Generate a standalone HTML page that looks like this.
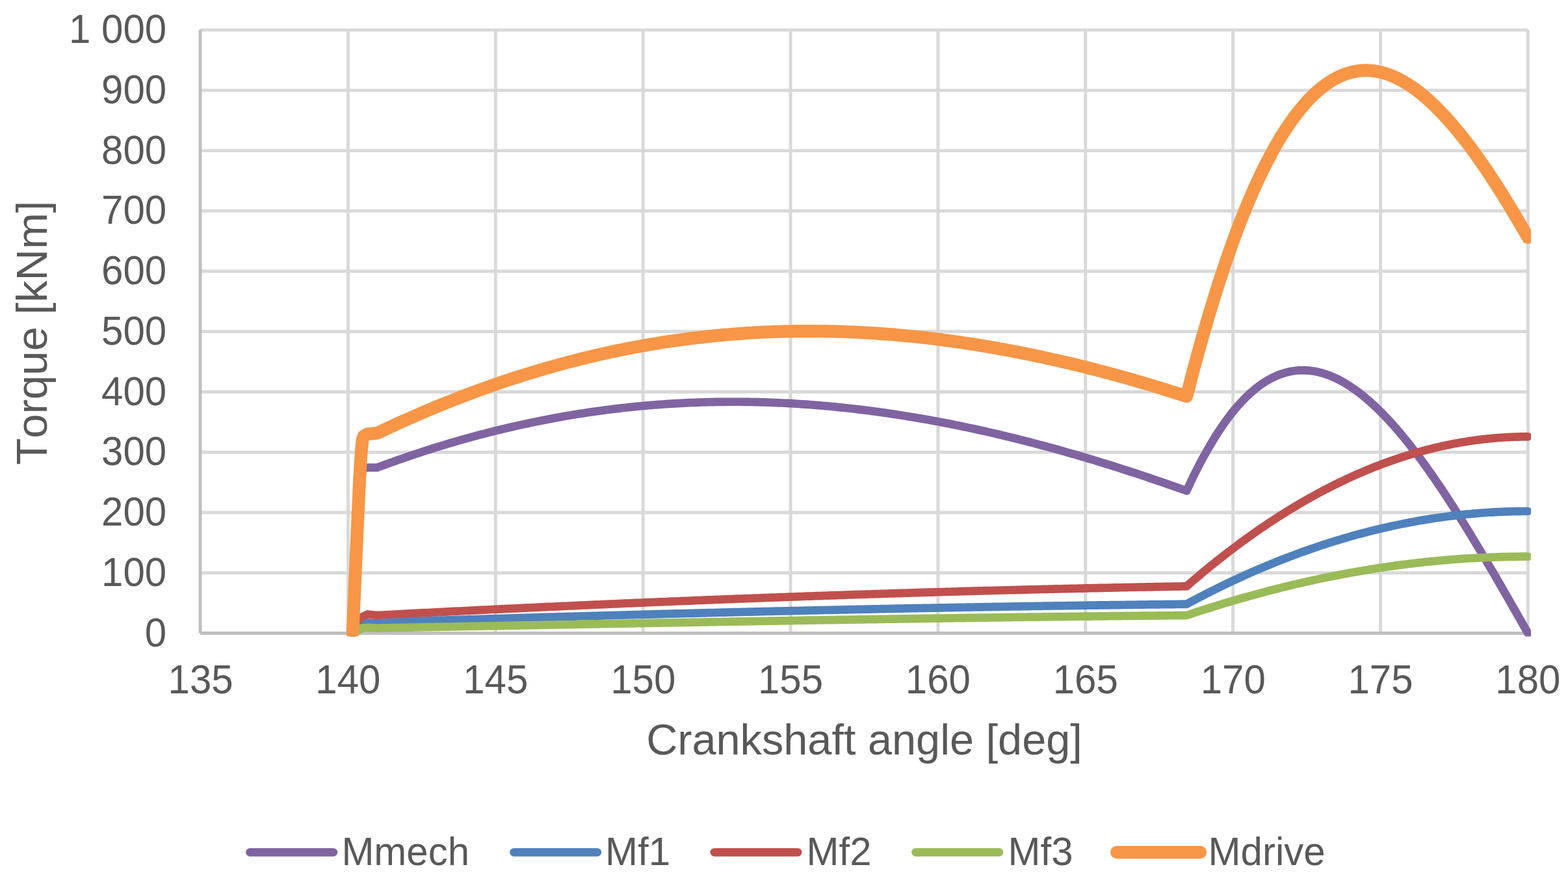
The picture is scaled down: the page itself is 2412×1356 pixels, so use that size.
<!DOCTYPE html>
<html lang="en">
<head>
<meta charset="utf-8">
<title>Torque vs crankshaft angle</title>
<style>
html,body{margin:0;padding:0;background:#fff;}
body{width:2412px;height:1356px;overflow:hidden;}
svg{display:block;}
text{font-family:"Liberation Sans",Arial,Helvetica,sans-serif;fill:#595959;font-kerning:none;}
.tick{font-size:60px;}
.title{font-size:66.67px;}
.leg{font-size:60px;}
.grid line{stroke:#D9D9D9;stroke-width:4.9;}
.axis line{stroke:#BFBFBF;stroke-width:4.9;}
.series path{fill:none;stroke-linejoin:round;stroke-linecap:round;}
.legend line{stroke-linecap:round;}
</style>
</head>
<body>
<svg width="2412" height="1356" viewBox="0 0 2412 1356">
<rect width="2412" height="1356" fill="#ffffff"/>
<defs><clipPath id="plotclip"><rect x="304.2" y="41.7" width="2050.9" height="936.8"/></clipPath></defs>

<g class="grid">
<line x1="308.0" y1="880.76" x2="2350.4" y2="880.76"/>
<line x1="308.0" y1="788.02" x2="2350.4" y2="788.02"/>
<line x1="308.0" y1="695.28" x2="2350.4" y2="695.28"/>
<line x1="308.0" y1="602.54" x2="2350.4" y2="602.54"/>
<line x1="308.0" y1="509.80" x2="2350.4" y2="509.80"/>
<line x1="308.0" y1="417.06" x2="2350.4" y2="417.06"/>
<line x1="308.0" y1="324.32" x2="2350.4" y2="324.32"/>
<line x1="308.0" y1="231.58" x2="2350.4" y2="231.58"/>
<line x1="308.0" y1="138.84" x2="2350.4" y2="138.84"/>
<line x1="308.0" y1="46.10" x2="2350.4" y2="46.10"/>
<line x1="535.42" y1="46.1" x2="535.42" y2="973.5"/>
<line x1="762.29" y1="46.1" x2="762.29" y2="973.5"/>
<line x1="989.17" y1="46.1" x2="989.17" y2="973.5"/>
<line x1="1216.04" y1="46.1" x2="1216.04" y2="973.5"/>
<line x1="1442.91" y1="46.1" x2="1442.91" y2="973.5"/>
<line x1="1669.78" y1="46.1" x2="1669.78" y2="973.5"/>
<line x1="1896.66" y1="46.1" x2="1896.66" y2="973.5"/>
<line x1="2123.53" y1="46.1" x2="2123.53" y2="973.5"/>
<line x1="2350.40" y1="46.1" x2="2350.40" y2="973.5"/>
</g>
<g class="axis">
<line x1="308.00" y1="46.1" x2="308.00" y2="973.5"/>
<line x1="308.0" y1="973.50" x2="2350.4" y2="973.50"/>
</g>
<g class="series" clip-path="url(#plotclip)">
<path stroke="#8064A2" stroke-width="12.7" d="M542.30,973.50 L557.59,720.32 L565.01,718.93 L580.34,718.82 L584.88,717.13 L589.42,715.46 L593.96,713.80 L598.49,712.15 L603.03,710.52 L607.57,708.90 L612.11,707.30 L616.64,705.71 L621.18,704.14 L625.72,702.58 L630.25,701.03 L634.79,699.50 L639.33,697.98 L643.87,696.48 L648.40,694.99 L652.94,693.52 L657.48,692.06 L662.02,690.61 L666.55,689.18 L671.09,687.76 L675.63,686.36 L680.17,684.97 L684.70,683.60 L689.24,682.24 L693.78,680.89 L698.32,679.56 L702.85,678.24 L707.39,676.94 L711.93,675.65 L716.47,674.38 L721.00,673.12 L725.54,671.87 L730.08,670.64 L734.62,669.43 L739.15,668.22 L743.69,667.04 L748.23,665.86 L752.77,664.70 L757.30,663.56 L761.84,662.43 L766.38,661.31 L770.92,660.21 L775.45,659.12 L779.99,658.05 L784.53,656.99 L789.07,655.95 L793.60,654.92 L798.14,653.90 L802.68,652.90 L807.22,651.91 L811.75,650.94 L816.29,649.98 L820.83,649.03 L825.36,648.10 L829.90,647.19 L834.44,646.29 L838.98,645.40 L843.51,644.53 L848.05,643.67 L852.59,642.82 L857.13,641.99 L861.66,641.18 L866.20,640.37 L870.74,639.59 L875.28,638.81 L879.81,638.05 L884.35,637.31 L888.89,636.58 L893.43,635.86 L897.96,635.16 L902.50,634.47 L907.04,633.79 L911.58,633.13 L916.11,632.49 L920.65,631.85 L925.19,631.23 L929.73,630.63 L934.26,630.04 L938.80,629.46 L943.34,628.90 L947.88,628.35 L952.41,627.82 L956.95,627.30 L961.49,626.79 L966.03,626.30 L970.56,625.82 L975.10,625.36 L979.64,624.91 L984.18,624.47 L988.71,624.05 L993.25,623.64 L997.79,623.25 L1002.33,622.86 L1006.86,622.50 L1011.40,622.14 L1015.94,621.80 L1020.48,621.48 L1025.01,621.17 L1029.55,620.87 L1034.09,620.58 L1038.62,620.31 L1043.16,620.06 L1047.70,619.81 L1052.24,619.58 L1056.77,619.36 L1061.31,619.16 L1065.85,618.97 L1070.39,618.80 L1074.92,618.64 L1079.46,618.49 L1084.00,618.35 L1088.54,618.23 L1093.07,618.12 L1097.61,618.03 L1102.15,617.95 L1106.69,617.88 L1111.22,617.82 L1115.76,617.78 L1120.30,617.75 L1124.84,617.74 L1129.37,617.74 L1133.91,617.75 L1138.45,617.77 L1142.99,617.81 L1147.52,617.86 L1152.06,617.93 L1156.60,618.01 L1161.14,618.10 L1165.67,618.20 L1170.21,618.32 L1174.75,618.45 L1179.29,618.59 L1183.82,618.75 L1188.36,618.92 L1192.90,619.10 L1197.44,619.29 L1201.97,619.50 L1206.51,619.72 L1211.05,619.95 L1215.59,620.20 L1220.12,620.46 L1224.66,620.73 L1229.20,621.01 L1233.73,621.31 L1238.27,621.62 L1242.81,621.94 L1247.35,622.28 L1251.88,622.62 L1256.42,622.98 L1260.96,623.36 L1265.50,623.74 L1270.03,624.14 L1274.57,624.55 L1279.11,624.97 L1283.65,625.40 L1288.18,625.85 L1292.72,626.31 L1297.26,626.78 L1301.80,627.26 L1306.33,627.76 L1310.87,628.26 L1315.41,628.78 L1319.95,629.32 L1324.48,629.86 L1329.02,630.42 L1333.56,630.98 L1338.10,631.56 L1342.63,632.15 L1347.17,632.76 L1351.71,633.37 L1356.25,634.00 L1360.78,634.64 L1365.32,635.29 L1369.86,635.95 L1374.40,636.62 L1378.93,637.31 L1383.47,638.01 L1388.01,638.71 L1392.55,639.43 L1397.08,640.16 L1401.62,640.91 L1406.16,641.66 L1410.70,642.43 L1415.23,643.20 L1419.77,643.99 L1424.31,644.79 L1428.85,645.60 L1433.38,646.42 L1437.92,647.26 L1442.46,648.10 L1446.99,648.95 L1451.53,649.82 L1456.07,650.70 L1460.61,651.58 L1465.14,652.48 L1469.68,653.39 L1474.22,654.31 L1478.76,655.24 L1483.29,656.18 L1487.83,657.14 L1492.37,658.10 L1496.91,659.07 L1501.44,660.06 L1505.98,661.05 L1510.52,662.06 L1515.06,663.07 L1519.59,664.10 L1524.13,665.13 L1528.67,666.18 L1533.21,667.24 L1537.74,668.30 L1542.28,669.38 L1546.82,670.47 L1551.36,671.56 L1555.89,672.67 L1560.43,673.79 L1564.97,674.91 L1569.51,676.05 L1574.04,677.20 L1578.58,678.35 L1583.12,679.52 L1587.66,680.69 L1592.19,681.88 L1596.73,683.07 L1601.27,684.28 L1605.81,685.49 L1610.34,686.72 L1614.88,687.95 L1619.42,689.19 L1623.96,690.44 L1628.49,691.70 L1633.03,692.97 L1637.57,694.25 L1642.10,695.54 L1646.64,696.84 L1651.18,698.15 L1655.72,699.46 L1660.25,700.79 L1664.79,702.12 L1669.33,703.46 L1673.87,704.81 L1678.40,706.17 L1682.94,707.54 L1687.48,708.92 L1692.02,710.30 L1696.55,711.70 L1701.09,713.10 L1705.63,714.51 L1710.17,715.93 L1714.70,717.36 L1719.24,718.79 L1723.78,720.24 L1728.32,721.69 L1732.85,723.15 L1737.39,724.62 L1741.93,726.09 L1746.47,727.58 L1751.00,729.07 L1755.54,730.57 L1760.08,732.08 L1764.62,733.59 L1769.15,735.12 L1773.69,736.65 L1778.23,738.19 L1782.77,739.73 L1787.30,741.29 L1791.84,742.85 L1796.38,744.42 L1800.92,745.99 L1805.45,747.57 L1809.99,749.16 L1814.53,750.76 L1819.07,752.37 L1823.60,753.98 L1825.33,754.59 L1827.14,750.62 L1830.77,742.81 L1834.40,735.21 L1838.03,727.82 L1841.66,720.62 L1845.29,713.61 L1848.92,706.81 L1852.55,700.19 L1856.18,693.77 L1859.81,687.43 L1863.44,681.24 L1867.07,675.23 L1870.70,669.40 L1874.33,663.75 L1877.96,658.28 L1881.59,652.99 L1885.22,647.87 L1888.85,642.92 L1892.48,638.15 L1896.11,633.55 L1899.74,629.13 L1903.37,624.87 L1907.00,620.78 L1910.63,616.85 L1914.26,613.10 L1917.89,609.50 L1921.52,606.07 L1925.15,602.81 L1928.78,599.70 L1932.41,596.75 L1936.04,593.96 L1939.67,591.33 L1943.30,588.85 L1946.93,586.53 L1950.56,584.36 L1954.19,582.34 L1957.82,580.47 L1961.45,578.75 L1965.08,577.18 L1968.71,575.75 L1972.34,574.47 L1975.97,573.33 L1979.60,572.34 L1983.23,571.48 L1986.86,570.77 L1990.49,570.19 L1994.12,569.76 L1997.75,569.45 L2001.38,569.29 L2005.01,569.25 L2008.64,569.35 L2012.27,569.58 L2015.90,569.93 L2019.53,570.42 L2023.16,571.03 L2026.79,571.76 L2030.42,572.62 L2034.05,573.61 L2037.68,574.71 L2041.31,575.94 L2044.94,577.28 L2048.57,578.74 L2052.20,580.31 L2055.83,582.00 L2059.46,583.80 L2063.09,585.72 L2066.72,587.74 L2070.35,589.88 L2073.98,592.12 L2077.61,594.47 L2081.24,596.92 L2084.87,599.48 L2088.50,602.14 L2092.13,604.90 L2095.76,607.75 L2099.39,610.71 L2103.02,613.77 L2106.65,616.92 L2110.28,620.16 L2113.91,623.49 L2117.54,626.92 L2121.17,630.44 L2124.80,634.05 L2128.43,637.74 L2132.06,641.52 L2135.69,645.38 L2139.32,649.33 L2142.95,653.35 L2146.58,657.46 L2150.21,661.65 L2153.84,665.91 L2157.47,670.26 L2161.10,674.67 L2164.73,679.16 L2168.36,683.72 L2171.99,688.35 L2175.62,693.05 L2179.25,697.82 L2182.88,702.65 L2186.51,707.55 L2190.14,712.52 L2193.77,717.54 L2197.40,722.63 L2201.03,727.77 L2204.66,732.98 L2208.29,738.24 L2211.92,743.55 L2215.55,748.92 L2219.18,754.34 L2222.81,759.81 L2226.44,765.34 L2230.07,770.91 L2233.70,776.52 L2237.33,782.19 L2240.96,787.89 L2244.59,793.64 L2248.22,799.43 L2251.85,805.26 L2255.48,811.13 L2259.11,817.04 L2262.74,822.98 L2266.37,828.95 L2270.00,834.96 L2273.63,841.00 L2277.26,847.07 L2280.89,853.16 L2284.52,859.29 L2288.15,865.44 L2291.78,871.61 L2295.41,877.81 L2299.04,884.03 L2302.67,890.27 L2306.30,896.52 L2309.93,902.80 L2313.56,909.09 L2317.19,915.39 L2320.82,921.71 L2324.45,928.04 L2328.08,934.38 L2331.71,940.72 L2335.34,947.08 L2338.97,953.44 L2342.60,959.81 L2346.23,966.17 L2349.86,972.54 L2350.40,973.50"/>
<path stroke="#C0504D" stroke-width="12.7" d="M542.30,973.50 L557.59,948.46 L565.01,944.66 L580.34,945.96 L584.88,945.72 L589.42,945.48 L593.96,945.24 L598.49,945.01 L603.03,944.77 L607.57,944.53 L612.11,944.30 L616.64,944.07 L621.18,943.83 L625.72,943.60 L630.25,943.36 L634.79,943.13 L639.33,942.90 L643.87,942.67 L648.40,942.44 L652.94,942.20 L657.48,941.97 L662.02,941.74 L666.55,941.52 L671.09,941.29 L675.63,941.06 L680.17,940.83 L684.70,940.60 L689.24,940.38 L693.78,940.15 L698.32,939.92 L702.85,939.70 L707.39,939.47 L711.93,939.25 L716.47,939.02 L721.00,938.80 L725.54,938.58 L730.08,938.36 L734.62,938.13 L739.15,937.91 L743.69,937.69 L748.23,937.47 L752.77,937.25 L757.30,937.03 L761.84,936.81 L766.38,936.60 L770.92,936.38 L775.45,936.16 L779.99,935.94 L784.53,935.73 L789.07,935.51 L793.60,935.30 L798.14,935.08 L802.68,934.87 L807.22,934.65 L811.75,934.44 L816.29,934.23 L820.83,934.02 L825.36,933.81 L829.90,933.59 L834.44,933.38 L838.98,933.17 L843.51,932.96 L848.05,932.76 L852.59,932.55 L857.13,932.34 L861.66,932.13 L866.20,931.92 L870.74,931.72 L875.28,931.51 L879.81,931.31 L884.35,931.10 L888.89,930.90 L893.43,930.70 L897.96,930.49 L902.50,930.29 L907.04,930.09 L911.58,929.89 L916.11,929.69 L920.65,929.49 L925.19,929.29 L929.73,929.09 L934.26,928.89 L938.80,928.69 L943.34,928.49 L947.88,928.29 L952.41,928.10 L956.95,927.90 L961.49,927.71 L966.03,927.51 L970.56,927.32 L975.10,927.12 L979.64,926.93 L984.18,926.74 L988.71,926.55 L993.25,926.35 L997.79,926.16 L1002.33,925.97 L1006.86,925.78 L1011.40,925.59 L1015.94,925.41 L1020.48,925.22 L1025.01,925.03 L1029.55,924.84 L1034.09,924.66 L1038.62,924.47 L1043.16,924.28 L1047.70,924.10 L1052.24,923.92 L1056.77,923.73 L1061.31,923.55 L1065.85,923.37 L1070.39,923.18 L1074.92,923.00 L1079.46,922.82 L1084.00,922.64 L1088.54,922.46 L1093.07,922.28 L1097.61,922.10 L1102.15,921.93 L1106.69,921.75 L1111.22,921.57 L1115.76,921.40 L1120.30,921.22 L1124.84,921.04 L1129.37,920.87 L1133.91,920.70 L1138.45,920.52 L1142.99,920.35 L1147.52,920.18 L1152.06,920.01 L1156.60,919.84 L1161.14,919.67 L1165.67,919.50 L1170.21,919.33 L1174.75,919.16 L1179.29,918.99 L1183.82,918.82 L1188.36,918.65 L1192.90,918.49 L1197.44,918.32 L1201.97,918.16 L1206.51,917.99 L1211.05,917.83 L1215.59,917.67 L1220.12,917.50 L1224.66,917.34 L1229.20,917.18 L1233.73,917.02 L1238.27,916.86 L1242.81,916.70 L1247.35,916.54 L1251.88,916.38 L1256.42,916.22 L1260.96,916.06 L1265.50,915.91 L1270.03,915.75 L1274.57,915.60 L1279.11,915.44 L1283.65,915.29 L1288.18,915.13 L1292.72,914.98 L1297.26,914.83 L1301.80,914.67 L1306.33,914.52 L1310.87,914.37 L1315.41,914.22 L1319.95,914.07 L1324.48,913.92 L1329.02,913.78 L1333.56,913.63 L1338.10,913.48 L1342.63,913.33 L1347.17,913.19 L1351.71,913.04 L1356.25,912.90 L1360.78,912.75 L1365.32,912.61 L1369.86,912.47 L1374.40,912.33 L1378.93,912.18 L1383.47,912.04 L1388.01,911.90 L1392.55,911.76 L1397.08,911.62 L1401.62,911.48 L1406.16,911.35 L1410.70,911.21 L1415.23,911.07 L1419.77,910.94 L1424.31,910.80 L1428.85,910.67 L1433.38,910.53 L1437.92,910.40 L1442.46,910.27 L1446.99,910.13 L1451.53,910.00 L1456.07,909.87 L1460.61,909.74 L1465.14,909.61 L1469.68,909.48 L1474.22,909.35 L1478.76,909.22 L1483.29,909.10 L1487.83,908.97 L1492.37,908.84 L1496.91,908.72 L1501.44,908.59 L1505.98,908.47 L1510.52,908.35 L1515.06,908.22 L1519.59,908.10 L1524.13,907.98 L1528.67,907.86 L1533.21,907.74 L1537.74,907.62 L1542.28,907.50 L1546.82,907.38 L1551.36,907.26 L1555.89,907.15 L1560.43,907.03 L1564.97,906.91 L1569.51,906.80 L1574.04,906.68 L1578.58,906.57 L1583.12,906.46 L1587.66,906.34 L1592.19,906.23 L1596.73,906.12 L1601.27,906.01 L1605.81,905.90 L1610.34,905.79 L1614.88,905.68 L1619.42,905.57 L1623.96,905.47 L1628.49,905.36 L1633.03,905.25 L1637.57,905.15 L1642.10,905.04 L1646.64,904.94 L1651.18,904.83 L1655.72,904.73 L1660.25,904.63 L1664.79,904.53 L1669.33,904.43 L1673.87,904.33 L1678.40,904.23 L1682.94,904.13 L1687.48,904.03 L1692.02,903.93 L1696.55,903.83 L1701.09,903.74 L1705.63,903.64 L1710.17,903.55 L1714.70,903.45 L1719.24,903.36 L1723.78,903.26 L1728.32,903.17 L1732.85,903.08 L1737.39,902.99 L1741.93,902.90 L1746.47,902.81 L1751.00,902.72 L1755.54,902.63 L1760.08,902.54 L1764.62,902.45 L1769.15,902.37 L1773.69,902.28 L1778.23,902.20 L1782.77,902.11 L1787.30,902.03 L1791.84,901.94 L1796.38,901.86 L1800.92,901.78 L1805.45,901.70 L1809.99,901.62 L1814.53,901.54 L1819.07,901.46 L1823.60,901.38 L1825.33,901.35 L1827.14,899.77 L1830.77,896.63 L1834.40,893.50 L1838.03,890.40 L1841.66,887.32 L1845.29,884.27 L1848.92,881.23 L1852.55,878.22 L1856.18,875.22 L1859.81,872.25 L1863.44,869.30 L1867.07,866.38 L1870.70,863.47 L1874.33,860.58 L1877.96,857.72 L1881.59,854.88 L1885.22,852.06 L1888.85,849.26 L1892.48,846.48 L1896.11,843.73 L1899.74,840.99 L1903.37,838.28 L1907.00,835.59 L1910.63,832.92 L1914.26,830.27 L1917.89,827.65 L1921.52,825.04 L1925.15,822.46 L1928.78,819.90 L1932.41,817.36 L1936.04,814.84 L1939.67,812.35 L1943.30,809.88 L1946.93,807.42 L1950.56,804.99 L1954.19,802.58 L1957.82,800.20 L1961.45,797.83 L1965.08,795.49 L1968.71,793.17 L1972.34,790.87 L1975.97,788.59 L1979.60,786.33 L1983.23,784.10 L1986.86,781.88 L1990.49,779.69 L1994.12,777.52 L1997.75,775.37 L2001.38,773.25 L2005.01,771.14 L2008.64,769.06 L2012.27,767.00 L2015.90,764.96 L2019.53,762.95 L2023.16,760.95 L2026.79,758.98 L2030.42,757.03 L2034.05,755.10 L2037.68,753.19 L2041.31,751.30 L2044.94,749.44 L2048.57,747.60 L2052.20,745.78 L2055.83,743.98 L2059.46,742.20 L2063.09,740.45 L2066.72,738.72 L2070.35,737.01 L2073.98,735.32 L2077.61,733.65 L2081.24,732.01 L2084.87,730.38 L2088.50,728.78 L2092.13,727.20 L2095.76,725.65 L2099.39,724.11 L2103.02,722.60 L2106.65,721.11 L2110.28,719.64 L2113.91,718.19 L2117.54,716.76 L2121.17,715.36 L2124.80,713.98 L2128.43,712.62 L2132.06,711.28 L2135.69,709.97 L2139.32,708.67 L2142.95,707.40 L2146.58,706.15 L2150.21,704.92 L2153.84,703.72 L2157.47,702.54 L2161.10,701.37 L2164.73,700.23 L2168.36,699.12 L2171.99,698.02 L2175.62,696.95 L2179.25,695.90 L2182.88,694.87 L2186.51,693.86 L2190.14,692.87 L2193.77,691.91 L2197.40,690.97 L2201.03,690.05 L2204.66,689.15 L2208.29,688.28 L2211.92,687.42 L2215.55,686.59 L2219.18,685.78 L2222.81,685.00 L2226.44,684.23 L2230.07,683.49 L2233.70,682.77 L2237.33,682.07 L2240.96,681.39 L2244.59,680.74 L2248.22,680.10 L2251.85,679.49 L2255.48,678.91 L2259.11,678.34 L2262.74,677.79 L2266.37,677.27 L2270.00,676.77 L2273.63,676.29 L2277.26,675.84 L2280.89,675.40 L2284.52,674.99 L2288.15,674.60 L2291.78,674.23 L2295.41,673.89 L2299.04,673.56 L2302.67,673.26 L2306.30,672.98 L2309.93,672.73 L2313.56,672.49 L2317.19,672.28 L2320.82,672.09 L2324.45,671.92 L2328.08,671.77 L2331.71,671.65 L2335.34,671.54 L2338.97,671.46 L2342.60,671.40 L2346.23,671.37 L2349.86,671.35 L2350.40,671.35"/>
<path stroke="#4F81BD" stroke-width="12.7" d="M542.30,973.50 L557.59,964.60 L565.01,957.64 L580.34,958.41 L584.88,958.16 L589.42,957.91 L593.96,957.66 L598.49,957.41 L603.03,957.16 L607.57,956.91 L612.11,956.66 L616.64,956.41 L621.18,956.16 L625.72,955.91 L630.25,955.66 L634.79,955.42 L639.33,955.17 L643.87,954.92 L648.40,954.67 L652.94,954.52 L657.48,954.38 L662.02,954.24 L666.55,954.09 L671.09,953.95 L675.63,953.81 L680.17,953.67 L684.70,953.53 L689.24,953.39 L693.78,953.25 L698.32,953.11 L702.85,952.97 L707.39,952.83 L711.93,952.69 L716.47,952.55 L721.00,952.42 L725.54,952.28 L730.08,952.14 L734.62,952.00 L739.15,951.86 L743.69,951.73 L748.23,951.59 L752.77,951.45 L757.30,951.32 L761.84,951.18 L766.38,951.05 L770.92,950.91 L775.45,950.78 L779.99,950.64 L784.53,950.51 L789.07,950.37 L793.60,950.24 L798.14,950.11 L802.68,949.97 L807.22,949.84 L811.75,949.71 L816.29,949.58 L820.83,949.44 L825.36,949.31 L829.90,949.18 L834.44,949.05 L838.98,948.92 L843.51,948.79 L848.05,948.66 L852.59,948.53 L857.13,948.40 L861.66,948.27 L866.20,948.14 L870.74,948.01 L875.28,947.88 L879.81,947.76 L884.35,947.63 L888.89,947.50 L893.43,947.37 L897.96,947.25 L902.50,947.12 L907.04,946.99 L911.58,946.87 L916.11,946.74 L920.65,946.62 L925.19,946.49 L929.73,946.37 L934.26,946.24 L938.80,946.12 L943.34,946.00 L947.88,945.87 L952.41,945.75 L956.95,945.63 L961.49,945.50 L966.03,945.38 L970.56,945.26 L975.10,945.14 L979.64,945.02 L984.18,944.90 L988.71,944.78 L993.25,944.66 L997.79,944.54 L1002.33,944.42 L1006.86,944.30 L1011.40,944.18 L1015.94,944.06 L1020.48,943.94 L1025.01,943.83 L1029.55,943.71 L1034.09,943.59 L1038.62,943.47 L1043.16,943.36 L1047.70,943.24 L1052.24,943.13 L1056.77,943.01 L1061.31,942.90 L1065.85,942.78 L1070.39,942.67 L1074.92,942.55 L1079.46,942.44 L1084.00,942.33 L1088.54,942.21 L1093.07,942.10 L1097.61,941.99 L1102.15,941.88 L1106.69,941.76 L1111.22,941.65 L1115.76,941.54 L1120.30,941.43 L1124.84,941.32 L1129.37,941.21 L1133.91,941.10 L1138.45,940.99 L1142.99,940.88 L1147.52,940.77 L1152.06,940.67 L1156.60,940.56 L1161.14,940.45 L1165.67,940.34 L1170.21,940.24 L1174.75,940.13 L1179.29,940.02 L1183.82,939.92 L1188.36,939.81 L1192.90,939.71 L1197.44,939.60 L1201.97,939.50 L1206.51,939.40 L1211.05,939.29 L1215.59,939.19 L1220.12,939.09 L1224.66,938.98 L1229.20,938.88 L1233.73,938.78 L1238.27,938.68 L1242.81,938.58 L1247.35,938.48 L1251.88,938.38 L1256.42,938.28 L1260.96,938.18 L1265.50,938.08 L1270.03,937.98 L1274.57,937.88 L1279.11,937.78 L1283.65,937.68 L1288.18,937.59 L1292.72,937.49 L1297.26,937.39 L1301.80,937.30 L1306.33,937.20 L1310.87,937.11 L1315.41,937.01 L1319.95,936.92 L1324.48,936.82 L1329.02,936.73 L1333.56,936.63 L1338.10,936.54 L1342.63,936.45 L1347.17,936.36 L1351.71,936.26 L1356.25,936.17 L1360.78,936.08 L1365.32,935.99 L1369.86,935.90 L1374.40,935.81 L1378.93,935.72 L1383.47,935.63 L1388.01,935.54 L1392.55,935.45 L1397.08,935.36 L1401.62,935.27 L1406.16,935.19 L1410.70,935.10 L1415.23,935.01 L1419.77,934.93 L1424.31,934.84 L1428.85,934.76 L1433.38,934.67 L1437.92,934.59 L1442.46,934.50 L1446.99,934.42 L1451.53,934.33 L1456.07,934.25 L1460.61,934.17 L1465.14,934.08 L1469.68,934.00 L1474.22,933.92 L1478.76,933.84 L1483.29,933.76 L1487.83,933.68 L1492.37,933.60 L1496.91,933.52 L1501.44,933.44 L1505.98,933.36 L1510.52,933.28 L1515.06,933.20 L1519.59,933.12 L1524.13,933.05 L1528.67,932.97 L1533.21,932.89 L1537.74,932.82 L1542.28,932.74 L1546.82,932.67 L1551.36,932.59 L1555.89,932.52 L1560.43,932.44 L1564.97,932.37 L1569.51,932.29 L1574.04,932.22 L1578.58,932.15 L1583.12,932.08 L1587.66,932.00 L1592.19,931.93 L1596.73,931.86 L1601.27,931.79 L1605.81,931.72 L1610.34,931.65 L1614.88,931.58 L1619.42,931.51 L1623.96,931.44 L1628.49,931.38 L1633.03,931.31 L1637.57,931.24 L1642.10,931.17 L1646.64,931.11 L1651.18,931.04 L1655.72,930.98 L1660.25,930.91 L1664.79,930.85 L1669.33,930.78 L1673.87,930.72 L1678.40,930.65 L1682.94,930.59 L1687.48,930.53 L1692.02,930.46 L1696.55,930.40 L1701.09,930.34 L1705.63,930.28 L1710.17,930.22 L1714.70,930.16 L1719.24,930.10 L1723.78,930.04 L1728.32,929.98 L1732.85,929.92 L1737.39,929.86 L1741.93,929.80 L1746.47,929.75 L1751.00,929.69 L1755.54,929.63 L1760.08,929.58 L1764.62,929.52 L1769.15,929.47 L1773.69,929.41 L1778.23,929.36 L1782.77,929.30 L1787.30,929.25 L1791.84,929.20 L1796.38,929.14 L1800.92,929.09 L1805.45,929.04 L1809.99,928.99 L1814.53,928.93 L1819.07,928.88 L1823.60,928.83 L1825.33,928.81 L1827.14,927.84 L1830.77,925.89 L1834.40,923.95 L1838.03,922.03 L1841.66,920.12 L1845.29,918.23 L1848.92,916.35 L1852.55,914.48 L1856.18,912.62 L1859.81,910.78 L1863.44,908.95 L1867.07,907.13 L1870.70,905.33 L1874.33,903.54 L1877.96,901.77 L1881.59,900.00 L1885.22,898.25 L1888.85,896.52 L1892.48,894.80 L1896.11,893.09 L1899.74,891.39 L1903.37,889.71 L1907.00,888.04 L1910.63,886.38 L1914.26,884.74 L1917.89,883.11 L1921.52,881.49 L1925.15,879.89 L1928.78,878.30 L1932.41,876.73 L1936.04,875.16 L1939.67,873.61 L1943.30,872.08 L1946.93,870.56 L1950.56,869.05 L1954.19,867.55 L1957.82,866.07 L1961.45,864.60 L1965.08,863.15 L1968.71,861.71 L1972.34,860.28 L1975.97,858.86 L1979.60,857.46 L1983.23,856.07 L1986.86,854.70 L1990.49,853.34 L1994.12,851.99 L1997.75,850.66 L2001.38,849.34 L2005.01,848.03 L2008.64,846.74 L2012.27,845.46 L2015.90,844.19 L2019.53,842.94 L2023.16,841.70 L2026.79,840.47 L2030.42,839.26 L2034.05,838.06 L2037.68,836.87 L2041.31,835.70 L2044.94,834.54 L2048.57,833.40 L2052.20,832.27 L2055.83,831.15 L2059.46,830.05 L2063.09,828.96 L2066.72,827.88 L2070.35,826.82 L2073.98,825.77 L2077.61,824.73 L2081.24,823.71 L2084.87,822.70 L2088.50,821.71 L2092.13,820.72 L2095.76,819.76 L2099.39,818.80 L2103.02,817.86 L2106.65,816.93 L2110.28,816.02 L2113.91,815.12 L2117.54,814.23 L2121.17,813.36 L2124.80,812.50 L2128.43,811.66 L2132.06,810.83 L2135.69,810.01 L2139.32,809.20 L2142.95,808.41 L2146.58,807.63 L2150.21,806.87 L2153.84,806.12 L2157.47,805.39 L2161.10,804.66 L2164.73,803.95 L2168.36,803.26 L2171.99,802.58 L2175.62,801.91 L2179.25,801.26 L2182.88,800.62 L2186.51,799.99 L2190.14,799.38 L2193.77,798.78 L2197.40,798.19 L2201.03,797.62 L2204.66,797.06 L2208.29,796.52 L2211.92,795.99 L2215.55,795.47 L2219.18,794.97 L2222.81,794.48 L2226.44,794.00 L2230.07,793.54 L2233.70,793.09 L2237.33,792.65 L2240.96,792.23 L2244.59,791.83 L2248.22,791.43 L2251.85,791.05 L2255.48,790.69 L2259.11,790.33 L2262.74,790.00 L2266.37,789.67 L2270.00,789.36 L2273.63,789.06 L2277.26,788.78 L2280.89,788.51 L2284.52,788.25 L2288.15,788.01 L2291.78,787.78 L2295.41,787.57 L2299.04,787.36 L2302.67,787.18 L2306.30,787.00 L2309.93,786.84 L2313.56,786.70 L2317.19,786.56 L2320.82,786.44 L2324.45,786.34 L2328.08,786.25 L2331.71,786.17 L2335.34,786.11 L2338.97,786.06 L2342.60,786.02 L2346.23,786.00 L2349.86,785.99 L2350.40,785.99"/>
<path stroke="#9BBB59" stroke-width="12.7" d="M542.30,973.50 L557.59,965.34 L565.01,964.97 L580.34,965.56 L584.88,965.48 L589.42,965.40 L593.96,965.32 L598.49,965.23 L603.03,965.15 L607.57,965.07 L612.11,964.99 L616.64,964.90 L621.18,964.82 L625.72,964.74 L630.25,964.66 L634.79,964.57 L639.33,964.49 L643.87,964.41 L648.40,964.32 L652.94,964.24 L657.48,964.16 L662.02,964.08 L666.55,963.99 L671.09,963.91 L675.63,963.83 L680.17,963.74 L684.70,963.66 L689.24,963.58 L693.78,963.49 L698.32,963.41 L702.85,963.33 L707.39,963.24 L711.93,963.16 L716.47,963.08 L721.00,962.99 L725.54,962.91 L730.08,962.83 L734.62,962.74 L739.15,962.66 L743.69,962.57 L748.23,962.49 L752.77,962.41 L757.30,962.32 L761.84,962.24 L766.38,962.16 L770.92,962.07 L775.45,961.99 L779.99,961.91 L784.53,961.82 L789.07,961.74 L793.60,961.65 L798.14,961.57 L802.68,961.49 L807.22,961.40 L811.75,961.32 L816.29,961.24 L820.83,961.15 L825.36,961.07 L829.90,960.99 L834.44,960.90 L838.98,960.82 L843.51,960.74 L848.05,960.65 L852.59,960.57 L857.13,960.49 L861.66,960.40 L866.20,960.32 L870.74,960.24 L875.28,960.15 L879.81,960.07 L884.35,959.99 L888.89,959.90 L893.43,959.82 L897.96,959.74 L902.50,959.66 L907.04,959.57 L911.58,959.49 L916.11,959.41 L920.65,959.32 L925.19,959.24 L929.73,959.16 L934.26,959.08 L938.80,958.99 L943.34,958.91 L947.88,958.83 L952.41,958.75 L956.95,958.67 L961.49,958.58 L966.03,958.50 L970.56,958.42 L975.10,958.34 L979.64,958.26 L984.18,958.17 L988.71,958.09 L993.25,958.01 L997.79,957.93 L1002.33,957.85 L1006.86,957.77 L1011.40,957.69 L1015.94,957.60 L1020.48,957.52 L1025.01,957.44 L1029.55,957.36 L1034.09,957.28 L1038.62,957.20 L1043.16,957.12 L1047.70,957.04 L1052.24,956.96 L1056.77,956.88 L1061.31,956.80 L1065.85,956.72 L1070.39,956.64 L1074.92,956.56 L1079.46,956.48 L1084.00,956.40 L1088.54,956.32 L1093.07,956.24 L1097.61,956.16 L1102.15,956.08 L1106.69,956.00 L1111.22,955.93 L1115.76,955.85 L1120.30,955.77 L1124.84,955.69 L1129.37,955.61 L1133.91,955.53 L1138.45,955.46 L1142.99,955.38 L1147.52,955.30 L1152.06,955.22 L1156.60,955.14 L1161.14,955.07 L1165.67,954.99 L1170.21,954.91 L1174.75,954.84 L1179.29,954.76 L1183.82,954.68 L1188.36,954.61 L1192.90,954.53 L1197.44,954.45 L1201.97,954.38 L1206.51,954.30 L1211.05,954.23 L1215.59,954.15 L1220.12,954.08 L1224.66,954.00 L1229.20,953.93 L1233.73,953.85 L1238.27,953.78 L1242.81,953.70 L1247.35,953.63 L1251.88,953.55 L1256.42,953.48 L1260.96,953.41 L1265.50,953.33 L1270.03,953.26 L1274.57,953.18 L1279.11,953.11 L1283.65,953.04 L1288.18,952.97 L1292.72,952.89 L1297.26,952.82 L1301.80,952.75 L1306.33,952.68 L1310.87,952.61 L1315.41,952.53 L1319.95,952.46 L1324.48,952.39 L1329.02,952.32 L1333.56,952.25 L1338.10,952.18 L1342.63,952.11 L1347.17,952.04 L1351.71,951.97 L1356.25,951.90 L1360.78,951.83 L1365.32,951.76 L1369.86,951.69 L1374.40,951.62 L1378.93,951.55 L1383.47,951.48 L1388.01,951.42 L1392.55,951.35 L1397.08,951.28 L1401.62,951.21 L1406.16,951.15 L1410.70,951.08 L1415.23,951.01 L1419.77,950.94 L1424.31,950.88 L1428.85,950.81 L1433.38,950.75 L1437.92,950.68 L1442.46,950.61 L1446.99,950.55 L1451.53,950.48 L1456.07,950.42 L1460.61,950.35 L1465.14,950.29 L1469.68,950.23 L1474.22,950.16 L1478.76,950.10 L1483.29,950.03 L1487.83,949.97 L1492.37,949.91 L1496.91,949.85 L1501.44,949.78 L1505.98,949.72 L1510.52,949.66 L1515.06,949.60 L1519.59,949.54 L1524.13,949.48 L1528.67,949.41 L1533.21,949.35 L1537.74,949.29 L1542.28,949.23 L1546.82,949.17 L1551.36,949.11 L1555.89,949.05 L1560.43,949.00 L1564.97,948.94 L1569.51,948.88 L1574.04,948.82 L1578.58,948.76 L1583.12,948.70 L1587.66,948.65 L1592.19,948.59 L1596.73,948.53 L1601.27,948.48 L1605.81,948.42 L1610.34,948.36 L1614.88,948.31 L1619.42,948.25 L1623.96,948.20 L1628.49,948.14 L1633.03,948.09 L1637.57,948.03 L1642.10,947.98 L1646.64,947.92 L1651.18,947.87 L1655.72,947.82 L1660.25,947.77 L1664.79,947.71 L1669.33,947.66 L1673.87,947.61 L1678.40,947.56 L1682.94,947.50 L1687.48,947.45 L1692.02,947.40 L1696.55,947.35 L1701.09,947.30 L1705.63,947.25 L1710.17,947.20 L1714.70,947.15 L1719.24,947.10 L1723.78,947.06 L1728.32,947.01 L1732.85,946.96 L1737.39,946.91 L1741.93,946.86 L1746.47,946.82 L1751.00,946.77 L1755.54,946.72 L1760.08,946.68 L1764.62,946.63 L1769.15,946.58 L1773.69,946.54 L1778.23,946.49 L1782.77,946.45 L1787.30,946.41 L1791.84,946.36 L1796.38,946.32 L1800.92,946.27 L1805.45,946.23 L1809.99,946.19 L1814.53,946.15 L1819.07,946.10 L1823.60,946.06 L1825.33,946.05 L1827.14,945.44 L1830.77,944.23 L1834.40,943.04 L1838.03,941.84 L1841.66,940.66 L1845.29,939.48 L1848.92,938.31 L1852.55,937.15 L1856.18,936.00 L1859.81,934.85 L1863.44,933.71 L1867.07,932.58 L1870.70,931.46 L1874.33,930.34 L1877.96,929.24 L1881.59,928.14 L1885.22,927.04 L1888.85,925.96 L1892.48,924.88 L1896.11,923.81 L1899.74,922.75 L1903.37,921.70 L1907.00,920.65 L1910.63,919.61 L1914.26,918.58 L1917.89,917.56 L1921.52,916.54 L1925.15,915.54 L1928.78,914.54 L1932.41,913.55 L1936.04,912.56 L1939.67,911.59 L1943.30,910.62 L1946.93,909.66 L1950.56,908.71 L1954.19,907.77 L1957.82,906.83 L1961.45,905.91 L1965.08,904.99 L1968.71,904.08 L1972.34,903.17 L1975.97,902.28 L1979.60,901.39 L1983.23,900.51 L1986.86,899.64 L1990.49,898.78 L1994.12,897.93 L1997.75,897.08 L2001.38,896.24 L2005.01,895.42 L2008.64,894.59 L2012.27,893.78 L2015.90,892.98 L2019.53,892.18 L2023.16,891.39 L2026.79,890.61 L2030.42,889.84 L2034.05,889.08 L2037.68,888.32 L2041.31,887.58 L2044.94,886.84 L2048.57,886.11 L2052.20,885.39 L2055.83,884.68 L2059.46,883.97 L2063.09,883.28 L2066.72,882.59 L2070.35,881.91 L2073.98,881.24 L2077.61,880.58 L2081.24,879.92 L2084.87,879.28 L2088.50,878.64 L2092.13,878.01 L2095.76,877.39 L2099.39,876.78 L2103.02,876.18 L2106.65,875.59 L2110.28,875.00 L2113.91,874.42 L2117.54,873.85 L2121.17,873.29 L2124.80,872.74 L2128.43,872.20 L2132.06,871.67 L2135.69,871.14 L2139.32,870.63 L2142.95,870.12 L2146.58,869.62 L2150.21,869.13 L2153.84,868.65 L2157.47,868.17 L2161.10,867.71 L2164.73,867.25 L2168.36,866.81 L2171.99,866.37 L2175.62,865.94 L2179.25,865.52 L2182.88,865.10 L2186.51,864.70 L2190.14,864.31 L2193.77,863.92 L2197.40,863.54 L2201.03,863.17 L2204.66,862.81 L2208.29,862.46 L2211.92,862.12 L2215.55,861.79 L2219.18,861.46 L2222.81,861.15 L2226.44,860.84 L2230.07,860.54 L2233.70,860.25 L2237.33,859.97 L2240.96,859.70 L2244.59,859.44 L2248.22,859.18 L2251.85,858.94 L2255.48,858.70 L2259.11,858.47 L2262.74,858.25 L2266.37,858.04 L2270.00,857.84 L2273.63,857.65 L2277.26,857.47 L2280.89,857.29 L2284.52,857.13 L2288.15,856.97 L2291.78,856.82 L2295.41,856.68 L2299.04,856.55 L2302.67,856.43 L2306.30,856.32 L2309.93,856.22 L2313.56,856.12 L2317.19,856.03 L2320.82,855.96 L2324.45,855.89 L2328.08,855.83 L2331.71,855.78 L2335.34,855.74 L2338.97,855.71 L2342.60,855.68 L2346.23,855.67 L2349.86,855.66 L2350.40,855.66"/>
<path stroke="#F79646" stroke-width="19.8" d="M542.50,973.50 L546.20,890.00 L549.80,810.00 L553.30,733.00 L554.60,712.00 L555.80,695.00 L557.60,676.00 L559.50,670.50 L565.00,667.30 L580.34,665.93 L584.88,663.77 L589.42,661.62 L593.96,659.48 L598.49,657.36 L603.03,655.26 L607.57,653.17 L612.11,651.09 L616.64,649.03 L621.18,646.99 L625.72,644.96 L630.25,642.95 L634.79,640.95 L639.33,638.96 L643.87,636.99 L648.40,635.04 L652.94,633.10 L657.48,631.18 L662.02,629.27 L666.55,627.38 L671.09,625.50 L675.63,623.63 L680.17,621.78 L684.70,619.95 L689.24,618.13 L693.78,616.33 L698.32,614.54 L702.85,612.77 L707.39,611.01 L711.93,609.27 L716.47,607.54 L721.00,605.83 L725.54,604.13 L730.08,602.45 L734.62,600.78 L739.15,599.13 L743.69,597.49 L748.23,595.87 L752.77,594.26 L757.30,592.67 L761.84,591.09 L766.38,589.53 L770.92,587.98 L775.45,586.45 L779.99,584.94 L784.53,583.44 L789.07,581.95 L793.60,580.48 L798.14,579.02 L802.68,577.58 L807.22,576.16 L811.75,574.75 L816.29,573.35 L820.83,571.97 L825.36,570.61 L829.90,569.26 L834.44,567.92 L838.98,566.60 L843.51,565.30 L848.05,564.01 L852.59,562.74 L857.13,561.48 L861.66,560.23 L866.20,559.00 L870.74,557.79 L875.28,556.59 L879.81,555.41 L884.35,554.24 L888.89,553.08 L893.43,551.95 L897.96,550.82 L902.50,549.71 L907.04,548.62 L911.58,547.54 L916.11,546.48 L920.65,545.43 L925.19,544.40 L929.73,543.38 L934.26,542.37 L938.80,541.39 L943.34,540.41 L947.88,539.46 L952.41,538.52 L956.95,537.60 L961.49,536.70 L966.03,535.81 L970.56,534.93 L975.10,534.07 L979.64,533.22 L984.18,532.39 L988.71,531.57 L993.25,530.77 L997.79,529.99 L1002.33,529.21 L1006.86,528.46 L1011.40,527.71 L1015.94,526.98 L1020.48,526.27 L1025.01,525.57 L1029.55,524.89 L1034.09,524.22 L1038.62,523.57 L1043.16,522.93 L1047.70,522.30 L1052.24,521.69 L1056.77,521.10 L1061.31,520.51 L1065.85,519.95 L1070.39,519.40 L1074.92,518.86 L1079.46,518.34 L1084.00,517.83 L1088.54,517.33 L1093.07,516.85 L1097.61,516.39 L1102.15,515.94 L1106.69,515.50 L1111.22,515.08 L1115.76,514.67 L1120.30,514.28 L1124.84,513.90 L1129.37,513.54 L1133.91,513.19 L1138.45,512.85 L1142.99,512.53 L1147.52,512.22 L1152.06,511.93 L1156.60,511.65 L1161.14,511.39 L1165.67,511.14 L1170.21,510.90 L1174.75,510.68 L1179.29,510.47 L1183.82,510.28 L1188.36,510.10 L1192.90,509.93 L1197.44,509.78 L1201.97,509.64 L1206.51,509.52 L1211.05,509.41 L1215.59,509.31 L1220.12,509.23 L1224.66,509.16 L1229.20,509.11 L1233.73,509.07 L1238.27,509.04 L1242.81,509.03 L1247.35,509.03 L1251.88,509.04 L1256.42,509.07 L1260.96,509.11 L1265.50,509.17 L1270.03,509.23 L1274.57,509.32 L1279.11,509.41 L1283.65,509.52 L1288.18,509.64 L1292.72,509.78 L1297.26,509.93 L1301.80,510.09 L1306.33,510.27 L1310.87,510.46 L1315.41,510.66 L1319.95,510.88 L1324.48,511.10 L1329.02,511.35 L1333.56,511.60 L1338.10,511.87 L1342.63,512.15 L1347.17,512.45 L1351.71,512.75 L1356.25,513.08 L1360.78,513.41 L1365.32,513.76 L1369.86,514.11 L1374.40,514.49 L1378.93,514.87 L1383.47,515.27 L1388.01,515.68 L1392.55,516.10 L1397.08,516.54 L1401.62,516.99 L1406.16,517.45 L1410.70,517.92 L1415.23,518.41 L1419.77,518.91 L1424.31,519.42 L1428.85,519.94 L1433.38,520.48 L1437.92,521.03 L1442.46,521.59 L1446.99,522.16 L1451.53,522.75 L1456.07,523.34 L1460.61,523.95 L1465.14,524.58 L1469.68,525.21 L1474.22,525.86 L1478.76,526.51 L1483.29,527.18 L1487.83,527.86 L1492.37,528.56 L1496.91,529.26 L1501.44,529.98 L1505.98,530.71 L1510.52,531.45 L1515.06,532.20 L1519.59,532.97 L1524.13,533.74 L1528.67,534.53 L1533.21,535.33 L1537.74,536.14 L1542.28,536.96 L1546.82,537.79 L1551.36,538.64 L1555.89,539.50 L1560.43,540.36 L1564.97,541.24 L1569.51,542.13 L1574.04,543.03 L1578.58,543.94 L1583.12,544.87 L1587.66,545.80 L1592.19,546.74 L1596.73,547.70 L1601.27,548.67 L1605.81,549.64 L1610.34,550.63 L1614.88,551.63 L1619.42,552.64 L1623.96,553.66 L1628.49,554.69 L1633.03,555.73 L1637.57,556.78 L1642.10,557.85 L1646.64,558.92 L1651.18,560.00 L1655.72,561.09 L1660.25,562.20 L1664.79,563.31 L1669.33,564.44 L1673.87,565.57 L1678.40,566.72 L1682.94,567.87 L1687.48,569.03 L1692.02,570.21 L1696.55,571.39 L1701.09,572.59 L1705.63,573.79 L1710.17,575.00 L1714.70,576.23 L1719.24,577.48 L1723.78,578.74 L1728.32,580.01 L1732.85,581.29 L1737.39,582.58 L1741.93,583.88 L1746.47,585.19 L1751.00,586.51 L1755.54,587.83 L1760.08,589.17 L1764.62,590.52 L1769.15,591.87 L1773.69,593.23 L1778.23,594.61 L1782.77,595.99 L1787.30,597.38 L1791.84,598.78 L1796.38,600.19 L1800.92,601.60 L1805.45,603.03 L1809.99,604.46 L1814.53,605.91 L1819.07,607.36 L1823.60,608.82 L1825.33,609.37 L1827.14,602.23 L1830.77,588.13 L1834.40,574.28 L1838.03,560.67 L1841.66,547.30 L1845.29,534.16 L1848.92,521.27 L1852.55,508.61 L1856.18,496.19 L1859.81,483.89 L1863.44,471.78 L1867.07,459.90 L1870.70,448.24 L1874.33,436.80 L1877.96,425.58 L1881.59,414.58 L1885.22,403.80 L1888.85,393.23 L1892.48,382.89 L1896.11,372.75 L1899.74,362.83 L1903.37,353.13 L1907.00,343.63 L1910.63,334.34 L1914.26,325.27 L1917.89,316.39 L1921.52,307.73 L1925.15,299.27 L1928.78,291.01 L1932.41,282.96 L1936.04,275.11 L1939.67,267.45 L1943.30,260.00 L1946.93,252.74 L1950.56,245.68 L1954.19,238.81 L1957.82,232.14 L1961.45,225.66 L1965.08,219.37 L1968.71,213.27 L1972.34,207.36 L1975.97,201.63 L1979.60,196.09 L1983.23,190.74 L1986.86,185.57 L1990.49,180.56 L1994.12,175.72 L1997.75,171.07 L2001.38,166.60 L2005.01,162.30 L2008.64,158.17 L2012.27,154.22 L2015.90,150.45 L2019.53,146.84 L2023.16,143.41 L2026.79,140.14 L2030.42,137.04 L2034.05,134.11 L2037.68,131.34 L2041.31,128.74 L2044.94,126.30 L2048.57,124.02 L2052.20,121.90 L2055.83,119.93 L2059.46,118.13 L2063.09,116.48 L2066.72,114.98 L2070.35,113.64 L2073.98,112.45 L2077.61,111.41 L2081.24,110.52 L2084.87,109.77 L2088.50,109.18 L2092.13,108.72 L2095.76,108.41 L2099.39,108.25 L2103.02,108.25 L2106.65,108.41 L2110.28,108.71 L2113.91,109.14 L2117.54,109.71 L2121.17,110.42 L2124.80,111.26 L2128.43,112.23 L2132.06,113.33 L2135.69,114.56 L2139.32,115.91 L2142.95,117.39 L2146.58,119.00 L2150.21,120.73 L2153.84,122.58 L2157.47,124.55 L2161.10,126.64 L2164.73,128.85 L2168.36,131.17 L2171.99,133.61 L2175.62,136.17 L2179.25,138.83 L2182.88,141.61 L2186.51,144.49 L2190.14,147.49 L2193.77,150.59 L2197.40,153.79 L2201.03,157.10 L2204.66,160.51 L2208.29,164.03 L2211.92,167.64 L2215.55,171.34 L2219.18,175.13 L2222.81,179.01 L2226.44,182.98 L2230.07,187.05 L2233.70,191.20 L2237.33,195.45 L2240.96,199.79 L2244.59,204.21 L2248.22,208.72 L2251.85,213.32 L2255.48,217.99 L2259.11,222.75 L2262.74,227.59 L2266.37,232.51 L2270.00,237.50 L2273.63,242.58 L2277.26,247.72 L2280.89,252.94 L2284.52,258.23 L2288.15,263.59 L2291.78,269.02 L2295.41,274.52 L2299.04,280.08 L2302.67,285.71 L2306.30,291.40 L2309.93,297.15 L2313.56,302.97 L2317.19,308.84 L2320.82,314.77 L2324.45,320.76 L2328.08,326.80 L2331.71,332.89 L2335.34,339.04 L2338.97,345.24 L2342.60,351.49 L2346.23,357.78 L2349.86,364.12 L2350.40,365.08"/>
</g>
<g class="tick" text-anchor="end">
<text transform="translate(256.2,993.5) scale(1,1.04)">0</text>
<text transform="translate(256.2,900.8) scale(1,1.04)">100</text>
<text transform="translate(256.2,808.0) scale(1,1.04)">200</text>
<text transform="translate(256.2,715.3) scale(1,1.04)">300</text>
<text transform="translate(256.2,622.5) scale(1,1.04)">400</text>
<text transform="translate(256.2,529.8) scale(1,1.04)">500</text>
<text transform="translate(256.2,437.1) scale(1,1.04)">600</text>
<text transform="translate(256.2,344.3) scale(1,1.04)">700</text>
<text transform="translate(256.2,251.6) scale(1,1.04)">800</text>
<text transform="translate(256.2,158.8) scale(1,1.04)">900</text>
<text transform="translate(256.2,66.1) scale(1,1.04)">1 000</text>
</g>
<g class="tick" text-anchor="middle">
<text transform="translate(308.6,1065.5) scale(1,1.04)">135</text>
<text transform="translate(535.4,1065.5) scale(1,1.04)">140</text>
<text transform="translate(762.3,1065.5) scale(1,1.04)">145</text>
<text transform="translate(989.2,1065.5) scale(1,1.04)">150</text>
<text transform="translate(1216.0,1065.5) scale(1,1.04)">155</text>
<text transform="translate(1442.9,1065.5) scale(1,1.04)">160</text>
<text transform="translate(1669.8,1065.5) scale(1,1.04)">165</text>
<text transform="translate(1896.7,1065.5) scale(1,1.04)">170</text>
<text transform="translate(2123.5,1065.5) scale(1,1.04)">175</text>
<text transform="translate(2350.4,1065.5) scale(1,1.04)">180</text>
</g>
<text class="title" text-anchor="middle" x="1329.5" y="1159.8">Crankshaft angle [deg]</text>
<text class="title" text-anchor="middle" transform="translate(72,511.7) rotate(-90) scale(1.006,1)">Torque [kNm]</text>
<g class="legend">
<line x1="384.5" y1="1310.3" x2="512.9" y2="1310.3" stroke="#8064A2" stroke-width="12.7"/>
<text class="leg" transform="translate(525.4,1329.5) scale(1,1.02)">Mmech</text>
<line x1="790.5" y1="1310.3" x2="918.8" y2="1310.3" stroke="#4F81BD" stroke-width="12.7"/>
<text class="leg" transform="translate(931.1,1329.5) scale(1,1.02)">Mf1</text>
<line x1="1098.8" y1="1310.3" x2="1227.2" y2="1310.3" stroke="#C0504D" stroke-width="12.7"/>
<text class="leg" transform="translate(1240.6,1329.5) scale(1,1.02)">Mf2</text>
<line x1="1408.6" y1="1310.3" x2="1537.0" y2="1310.3" stroke="#9BBB59" stroke-width="12.7"/>
<text class="leg" transform="translate(1550.5,1329.5) scale(1,1.02)">Mf3</text>
<line x1="1717.9" y1="1310.3" x2="1846.2" y2="1310.3" stroke="#F79646" stroke-width="19.8"/>
<text class="leg" transform="translate(1858.6,1329.5) scale(1,1.02)">Mdrive</text>
</g>
</svg>
</body>
</html>
